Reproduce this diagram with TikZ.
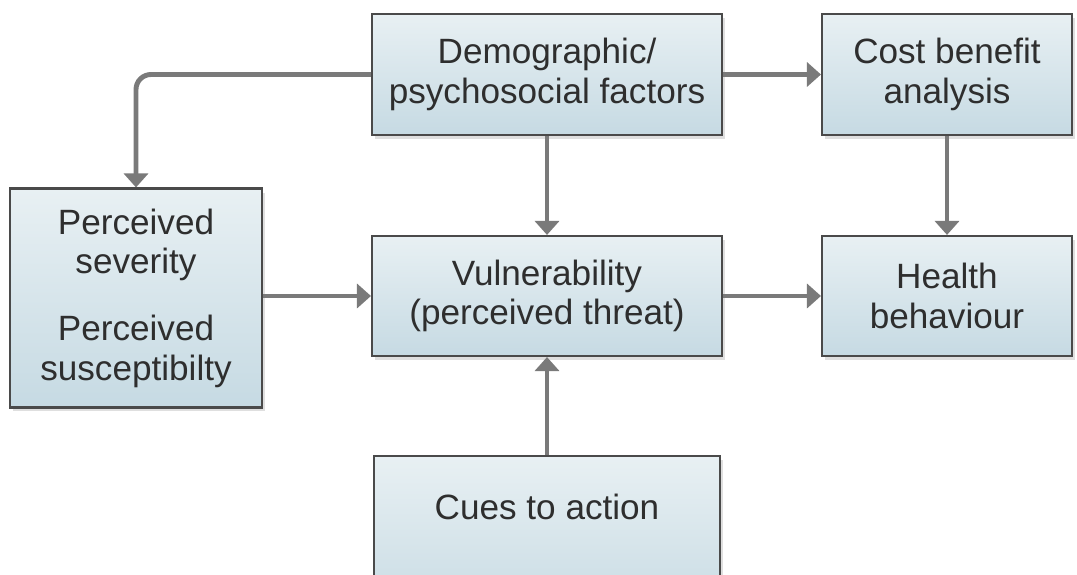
\documentclass[tikz,border=0pt]{standalone}
\usepackage{fontspec}
\setmainfont{Liberation Sans}
\usepackage{tikz}
\usetikzlibrary{arrows.meta, shadows}
\usepackage{xcolor}
\definecolor{hbmtop}{HTML}{E8F0F3}
\definecolor{hbmbottom}{HTML}{C6DAE3}
\definecolor{hbmedge}{HTML}{4A4A4A}
\definecolor{hbmarrow}{HTML}{7A7A7A}
\definecolor{hbmtext}{HTML}{2E2E2E}

\begin{document}
\begin{tikzpicture}[
    x=0.02cm, y=0.02cm,
    factor/.style={
        rectangle,
        draw=hbmedge,
        line width=1.2pt,
        top color=hbmtop,
        bottom color=hbmbottom,
        drop shadow={shadow xshift=0.06cm, shadow yshift=-0.08cm, opacity=0.25},
        align=center,
        text=hbmtext,
        font=\fontsize{20}{22.5}\selectfont
    },
    arrow/.style={
        -{Triangle[length=0.28cm, width=0.48cm]},
        line width=2.8pt,
        hbmarrow
    }
]

% Frame
\useasboundingbox (0,0) rectangle (1077,574);
\clip (0,0) rectangle (1077,574);

% Top row
\node[factor, minimum width=7cm, minimum height=2.42cm] (demo) at (547,499.5) {Demographic/\\psychosocial factors};
\node[factor, minimum width=5cm, minimum height=2.42cm] (cost) at (947,499.5) {Cost benefit\\analysis};

% Middle row
\node[factor, minimum width=5.04cm, minimum height=4.38cm] (perc) at (136,276) {Perceived\\severity\\[0.55cm]Perceived\\susceptibilty};
\node[factor, minimum width=7cm, minimum height=2.4cm] (vuln) at (547,278) {Vulnerability\\(perceived threat)};
\node[factor, minimum width=5cm, minimum height=2.4cm] (health) at (947,278) {Health\\behaviour};

% Bottom row
\node[factor, minimum width=6.92cm, text height=1.15cm, text depth=2cm, anchor=north] (cues) at (547,119) {Cues to action};

% Links
\draw[arrow, rounded corners=0.3cm] (demo.west) -| (perc.north);
\draw[arrow] (demo) -- (cost);
\draw[arrow] (demo) -- (vuln);
\draw[arrow] (cost) -- (health);
\draw[arrow] (perc.east |- vuln) -- (vuln);
\draw[arrow] (vuln) -- (health);
\draw[arrow] (cues) -- (vuln);

\end{tikzpicture}
\end{document}
